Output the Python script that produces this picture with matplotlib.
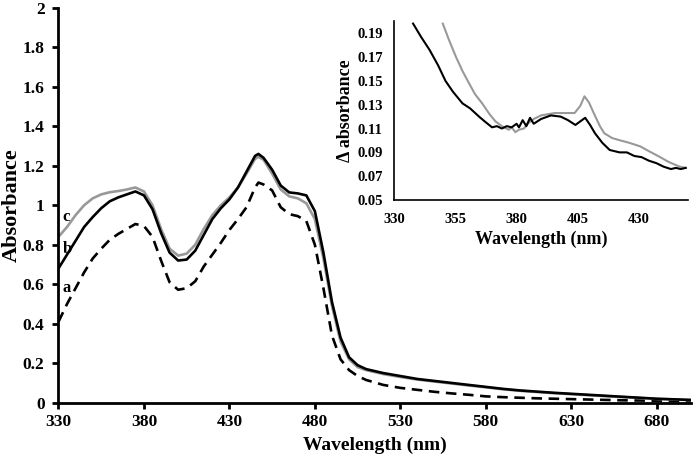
import numpy as np
import matplotlib.pyplot as plt

plt.rcParams['font.family'] = ['Liberation Serif', 'DejaVu Serif']
plt.rcParams['font.weight'] = 'bold'

# main spectra
wl = [330, 335, 340, 345, 350, 355, 360, 365, 370, 375, 380, 385, 390, 395, 400,
      405, 410, 415, 420, 425, 430, 435, 440, 445, 447, 450, 455, 460, 465, 470,
      475, 480, 485, 490, 495, 500, 505, 510, 520, 530, 540, 550, 560, 570, 580,
      590, 600, 610, 620, 630, 640, 650, 660, 670, 680, 690, 700]
abs_a = [0.41, 0.50, 0.58, 0.66, 0.73, 0.78, 0.825, 0.855, 0.88, 0.905, 0.895, 0.84, 0.72, 0.61, 0.572,
         0.58, 0.615, 0.69, 0.75, 0.81, 0.875, 0.93, 0.99, 1.09, 1.115, 1.105, 1.075, 0.99, 0.955, 0.945,
         0.92, 0.80, 0.58, 0.34, 0.22, 0.165, 0.135, 0.115, 0.09, 0.075, 0.065, 0.055, 0.047, 0.04, 0.032,
         0.028, 0.025, 0.022, 0.02, 0.018, 0.016, 0.014, 0.012, 0.011, 0.009, 0.008, 0.007]
abs_b = [0.68, 0.75, 0.82, 0.89, 0.94, 0.985, 1.02, 1.04, 1.055, 1.07, 1.05, 0.98, 0.86, 0.76, 0.72,
         0.725, 0.77, 0.85, 0.93, 0.985, 1.03, 1.09, 1.17, 1.25, 1.26, 1.24, 1.18, 1.10, 1.065, 1.06,
         1.05, 0.97, 0.76, 0.51, 0.33, 0.23, 0.19, 0.17, 0.15, 0.135, 0.12, 0.11, 0.10, 0.09, 0.08,
         0.07, 0.062, 0.056, 0.05, 0.045, 0.04, 0.035, 0.03, 0.025, 0.02, 0.017, 0.014]
abs_c = [0.84, 0.89, 0.95, 1.00, 1.035, 1.055, 1.066, 1.072, 1.08, 1.09, 1.07, 1.00, 0.88, 0.78, 0.745,
         0.755, 0.80, 0.88, 0.95, 1.00, 1.04, 1.09, 1.16, 1.235, 1.245, 1.23, 1.16, 1.08, 1.045, 1.035,
         1.01, 0.93, 0.73, 0.49, 0.31, 0.22, 0.18, 0.165, 0.145, 0.13, 0.117, 0.107, 0.097, 0.087, 0.078,
         0.068, 0.06, 0.054, 0.048, 0.043, 0.038, 0.033, 0.028, 0.024, 0.019, 0.016, 0.013]

# inset difference spectra
wl_d1 = [337.8, 341, 344.5, 348, 351, 354, 358, 361, 364.7, 367, 370, 372, 374, 376, 378,
         380, 381, 382.5, 384, 385.5, 387, 390, 394, 398, 401, 404, 406, 408, 410, 412,
         415, 418, 422, 425, 428, 431, 434, 437, 440, 443, 445, 447, 449]
d1 = [0.198, 0.187, 0.176, 0.163, 0.150, 0.141, 0.131, 0.127, 0.120, 0.116, 0.111, 0.112, 0.110, 0.112, 0.111,
      0.114, 0.111, 0.117, 0.112, 0.119, 0.114, 0.118, 0.121, 0.120, 0.117, 0.113, 0.116, 0.119, 0.113, 0.106,
      0.098, 0.092, 0.090, 0.090, 0.087, 0.086, 0.083, 0.081, 0.078, 0.076, 0.077, 0.076, 0.077]
wl_d2 = [349.9, 352.5, 355.3, 358, 360.6, 363, 366, 369, 371.4, 374, 376.8, 378, 379.5, 381, 383,
         384.8, 387, 390, 395.6, 400, 403.7, 406, 407.7, 409.5, 411.7, 414, 415.8, 419, 422.4, 426,
         430.5, 434, 438.6, 442, 446.6, 449]
d2 = [0.198, 0.184, 0.170, 0.158, 0.148, 0.139, 0.131, 0.122, 0.116, 0.112, 0.109, 0.111, 0.107, 0.109, 0.110,
      0.1145, 0.118, 0.121, 0.123, 0.123, 0.123, 0.129, 0.137, 0.132, 0.122, 0.112, 0.106, 0.102, 0.100, 0.098,
      0.095, 0.091, 0.086, 0.082, 0.078, 0.077]

gray = '#999999'

fig = plt.figure(figsize=(6.93, 4.61), dpi=100)
ax = fig.add_axes([0.0844, 0.1265, 0.9126, 0.8565])
ax.plot(wl, abs_a, color='black', lw=1.9, ls=(0, (4, 2.5)))
ax.plot(wl, abs_c, color=gray, lw=1.9)
ax.plot(wl, abs_b, color='black', lw=1.9)
ax.set_xlim(330, 700)
ax.set_ylim(0, 2)
ax.set_xticks(np.arange(330, 700, 50))
ax.set_yticks(np.arange(0, 2.01, 0.2))
ax.set_yticklabels(['0', '0.2', '0.4', '0.6', '0.8', '1', '1.2', '1.4', '1.6', '1.8', '2'])
for s in ['top', 'right']:
    ax.spines[s].set_visible(False)
for s in ['left', 'bottom']:
    ax.spines[s].set_linewidth(2)
ax.tick_params(direction='out', length=4, width=2, labelsize=12.5)
ax.tick_params(axis='y', pad=6)
ax.tick_params(axis='x', pad=4)
ax.set_xlabel('Wavelength (nm)', fontsize=14, fontweight='bold', labelpad=5)
ax.set_ylabel('Absorbance', fontsize=16, fontweight='bold')
ax.yaxis.set_label_coords(-0.058, 0.5)
ax.text(332.5, 0.94, 'c', fontsize=12, fontweight='bold', va='center')
ax.text(332.5, 0.78, 'b', fontsize=12, fontweight='bold', va='center')
ax.text(332.5, 0.58, 'a', fontsize=12, fontweight='bold', va='center')

ins = fig.add_axes([0.5685, 0.566, 0.4245, 0.388])
ins.plot(wl_d2, d2, color=gray, lw=1.5)
ins.plot(wl_d1, d1, color='black', lw=1.5)
ins.set_xlim(330, 450)
ins.set_ylim(0.05, 0.2)
ins.set_xticks(np.arange(330, 431, 25))
ins.set_yticks(np.arange(0.05, 0.195, 0.02))
ins.set_yticklabels(['%.2f' % v for v in np.arange(0.05, 0.195, 0.02)])
for s in ['top', 'right']:
    ins.spines[s].set_visible(False)
for s in ['left', 'bottom']:
    ins.spines[s].set_linewidth(1.2)
ins.tick_params(length=0, labelsize=10.5)
ins.tick_params(axis='y', pad=8)
ins.tick_params(axis='x', pad=9)
ins.set_xlabel('Wavelength (nm)', fontsize=13, fontweight='bold', labelpad=4)
ins.set_ylabel('\u0394 absorbance', fontsize=13, fontweight='bold', labelpad=2)

fig.savefig('out.png', dpi=100)
